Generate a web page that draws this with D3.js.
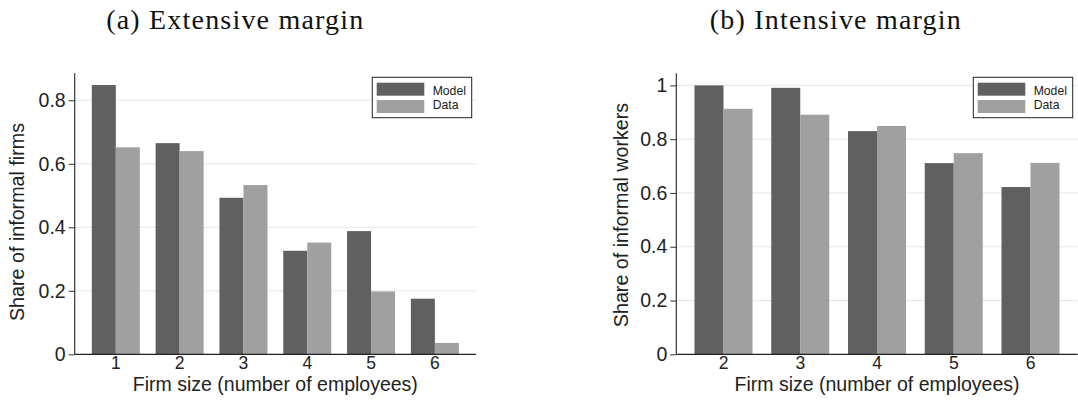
<!DOCTYPE html>
<html>
<head>
<meta charset="utf-8">
<script src="https://cdn.jsdelivr.net/npm/d3@7"></script>
<style>
  html, body { margin: 0; padding: 0; background: #fff; }
  svg { display: block; }
</style>
</head>
<body>
<svg id="chart" width="1078" height="405"></svg>
<script>
// ---- data ----
const catsA = ["1", "2", "3", "4", "5", "6"];
const modelA = [0.848, 0.665, 0.493, 0.326, 0.388, 0.175];
const dataA  = [0.652, 0.640, 0.533, 0.352, 0.198, 0.036];
const ticksA = [0, 0.2, 0.4, 0.6, 0.8];

const catsB = ["2", "3", "4", "5", "6"];
const modelB = [1.000, 0.991, 0.830, 0.711, 0.622];
const dataB  = [0.913, 0.891, 0.849, 0.748, 0.712];
const ticksB = [0, 0.2, 0.4, 0.6, 0.8, 1];

const seriesNames = ["Model", "Data"];
const seriesColors = ["#606060", "#a0a0a0"];

const SANS = "Liberation Sans, Arial, sans-serif";
const svg = d3.select("#chart");

function panel(opts) {
  const g = svg.append("g");
  const x = d3.scaleBand().domain(opts.cats).range([opts.x0, opts.x1])
    .paddingInner(opts.pi).paddingOuter(opts.po);
  const xs = d3.scaleBand().domain(seriesNames).range([0, x.bandwidth()]);
  const y = d3.scaleLinear().domain([0, opts.ymax]).range([354.3, 73.3]);

  // grid
  g.append("g").selectAll("line").data(opts.ticks.filter(t => t > 0)).join("line")
    .attr("x1", opts.x0).attr("x2", opts.x1)
    .attr("y1", d => y(d)).attr("y2", d => y(d))
    .attr("stroke", "#e6e6e6").attr("stroke-width", 1);

  // bars
  const rows = opts.cats.map((c, i) => ({ c, vals: [opts.model[i], opts.data[i]] }));
  const grp = g.append("g").selectAll("g").data(rows).join("g")
    .attr("transform", d => `translate(${x(d.c)},0)`);
  grp.selectAll("rect").data(d => d.vals.map((v, k) => ({ v, k })))
    .join("rect")
    .attr("x", d => xs(seriesNames[d.k]))
    .attr("width", xs.bandwidth())
    .attr("y", d => y(d.v))
    .attr("height", d => y(0) - y(d.v))
    .attr("fill", d => seriesColors[d.k]);

  // y axis
  const ya = d3.axisLeft(y).tickValues(opts.ticks).tickSize(6).tickPadding(3)
    .tickFormat(d => d === 0 ? "0" : d === 1 ? "1" : d3.format(".1f")(d));
  const yg = g.append("g").attr("transform", `translate(${opts.x0},0)`).call(ya);
  yg.select(".domain").remove();
  yg.append("line").attr("x1", 0).attr("x2", 0).attr("y1", 73.3).attr("y2", 354.3)
    .attr("stroke", "#333").attr("stroke-width", 1.2);
  yg.selectAll(".tick line").attr("stroke", "#333");
  yg.selectAll(".tick text").attr("font-family", SANS)
    .attr("font-size", 19.5).attr("fill", "#222");

  // x axis
  const xa = d3.axisBottom(x).tickSize(0).tickPadding(2.5);
  const xg = g.append("g").attr("transform", `translate(0,${y(0)})`).call(xa);
  xg.select(".domain").remove();
  xg.append("line").attr("x1", opts.x0).attr("x2", opts.x1).attr("y1", 0).attr("y2", 0)
    .attr("stroke", "#222").attr("stroke-width", 1.2);
  xg.selectAll(".tick text").attr("font-family", SANS)
    .attr("font-size", 17.5).attr("fill", "#222");

  // axis titles
  g.append("text").attr("x", (opts.x0 + opts.x1) / 2).attr("y", 391)
    .attr("text-anchor", "middle").attr("font-family", SANS)
    .attr("font-size", 19.5).attr("fill", "#222").text(opts.xlabel);
  g.append("text").attr("transform", `translate(${opts.ylx},${opts.yly}) rotate(-90)`)
    .attr("text-anchor", "middle").attr("font-family", SANS)
    .attr("font-size", 19.7).attr("fill", "#222").text(opts.ylabel);

  // title
  g.append("text").attr("x", opts.tx).attr("y", 29)
    .attr("text-anchor", "middle").attr("font-family", "Liberation Serif, Times New Roman, serif")
    .attr("font-size", 28).attr("fill", "#111")
    .attr("textLength", opts.tw).attr("lengthAdjust", "spacing")
    .text(opts.title);

  // legend
  const lx = opts.lx, ly = 77.3;
  const lg = g.append("g").attr("transform", `translate(${lx},${ly})`);
  lg.append("rect").attr("x", 0).attr("y", 0).attr("width", 99.4).attr("height", 40.4)
    .attr("fill", "#fff").attr("stroke", "#222").attr("stroke-width", 1);
  seriesNames.forEach((s, k) => {
    lg.append("rect").attr("x", 4.4).attr("y", 5.4 + k * 17.3).attr("width", 47.6).attr("height", 13)
      .attr("fill", seriesColors[k]);
    lg.append("text").attr("x", 60.4).attr("y", 17.6 + k * 14.3)
      .attr("font-family", SANS).attr("font-size", 12.2)
      .attr("fill", "#222").text(s);
  });
}

panel({
  cats: catsA, model: modelA, data: dataA, ticks: ticksA, ymax: 0.885,
  x0: 74.7, x1: 476, pi: 0.2476, po: 0.268,
  xlabel: "Firm size (number of employees)", ylabel: "Share of informal firms",
  ylx: 23.5, yly: 222, title: "(a) Extensive margin", tx: 234.7, tw: 257, lx: 372.3
});
panel({
  cats: catsB, model: modelB, data: dataB, ticks: ticksB, ymax: 1.045,
  x0: 676.3, x1: 1077.7, pi: 0.244, po: 0.237,
  xlabel: "Firm size (number of employees)", ylabel: "Share of informal workers",
  ylx: 628.3, yly: 215, title: "(b) Intensive margin", tx: 835.3, tw: 251, lx: 973.3
});
</script>
</body>
</html>
